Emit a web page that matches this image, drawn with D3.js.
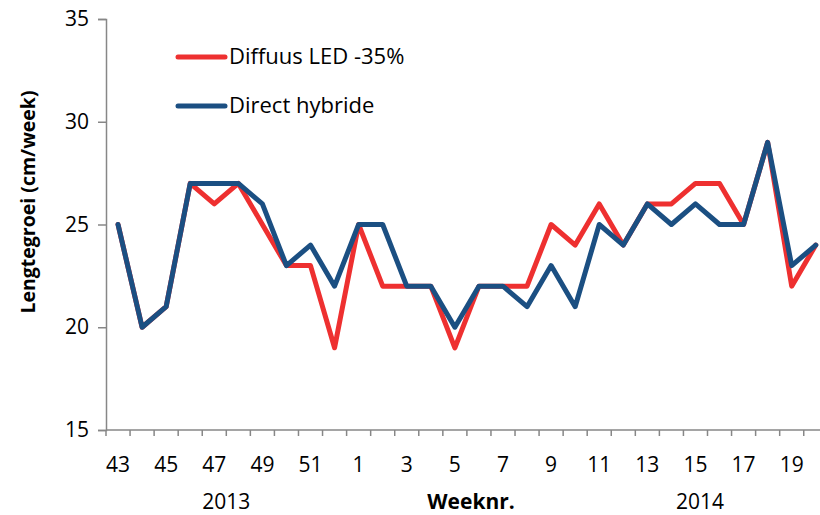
<!DOCTYPE html>
<html>
<head>
<meta charset="utf-8">
<script src="https://cdn.jsdelivr.net/npm/d3@7"></script>
<style>
  body { margin: 0; background: #fff; }
  svg { display: block; font-family: "Open Sans", Lato, sans-serif; }
</style>
</head>
<body>
<svg id="chart" width="820" height="515"></svg>
<script>
// weeks from 43 (2013) to 20 (2014)
let weeks = [43, 44, 45, 46, 47, 48, 49, 50, 51, 52,
  1, 2, 3, 4, 5, 6, 7, 8, 9, 10, 11, 12, 13, 14, 15, 16, 17, 18, 19, 20];

let diffuus = [25, 20, 21, 27, 26, 27, 25, 23, 23, 19,
  25, 22, 22, 22, 19, 22, 22, 22, 25, 24, 26, 24, 26, 26, 27, 27, 25, 29, 22, 24];

let direct = [25, 20, 21, 27, 27, 27, 26, 23, 24, 22,
  25, 25, 22, 22, 20, 22, 22, 21, 23, 21, 25, 24, 26, 25, 26, 25, 25, 29, 23, 24];

let yTicks = [15, 20, 25, 30, 35];
let seriesNames = ["Diffuus LED -35%", "Direct hybride"];
let seriesColors = ["#EE3030", "#1B4F82"];

let svg = d3.select("#chart");
let axisColor = "#878787";
let fs = 21;

let x = d3.scaleBand()
  .domain(d3.range(weeks.length))
  .range([106, 106 + 30 * 24.06])
  .padding(0);

let y = d3.scaleLinear()
  .domain([15, 35])
  .range([430, 19]);

// y axis
let yAxis = svg.append("g")
  .attr("transform", "translate(106,0)")
  .call(d3.axisLeft(y).tickValues(yTicks).tickSize(8).tickPadding(9));
yAxis.select(".domain").attr("stroke", axisColor).attr("stroke-width", 1.5);
yAxis.selectAll(".tick line").attr("stroke", axisColor).attr("stroke-width", 1.5);
yAxis.selectAll(".tick text")
  .attr("font-size", fs)
  .attr("fill", "#000")
  .attr("font-family", "'Open Sans', sans-serif");

// x axis: ticks between categories
let xAxisG = svg.append("g");
xAxisG.append("line")
  .attr("x1", 106).attr("x2", 820)
  .attr("y1", y(15)).attr("y2", y(15))
  .attr("stroke", axisColor).attr("stroke-width", 1.5);
xAxisG.selectAll(".xt")
  .data(d3.range(weeks.length + 1))
  .join("line")
  .attr("class", "xt")
  .attr("x1", d => 106 + d * x.step())
  .attr("x2", d => 106 + d * x.step())
  .attr("y1", y(15))
  .attr("y2", y(15) + 6)
  .attr("stroke", axisColor).attr("stroke-width", 1.5);
xAxisG.selectAll(".xl")
  .data(weeks.filter((w, i) => i % 2 == 0))
  .join("text")
  .attr("class", "xl")
  .attr("x", (w, i) => x(i * 2) + x.bandwidth() / 2)
  .attr("y", 472)
  .attr("text-anchor", "middle")
  .attr("font-size", fs)
  .text(d => d);

// year labels
svg.append("text")
  .attr("x", x(5)).attr("y", 509)
  .attr("text-anchor", "middle")
  .attr("font-size", fs)
  .text("2013");
svg.append("text")
  .attr("x", 700).attr("y", 509)
  .attr("text-anchor", "middle")
  .attr("font-size", fs)
  .text("2014");

// axis titles
svg.append("text")
  .attr("x", 471).attr("y", 509)
  .attr("text-anchor", "middle")
  .attr("font-size", fs)
  .attr("font-weight", "bold")
  .text("Weeknr.");
svg.append("text")
  .attr("transform", "translate(35,202) rotate(-90)")
  .attr("text-anchor", "middle")
  .attr("font-size", 19.5)
  .attr("font-weight", "bold")
  .text("Lengtegroei (cm/week)");

// lines
let line = d3.line()
  .x((d, i) => x(i) + x.bandwidth() / 2)
  .y(d => y(d));

[diffuus, direct].forEach((vals, k) => {
  svg.append("path")
    .datum(vals)
    .attr("d", line)
    .attr("fill", "none")
    .attr("stroke", seriesColors[k])
    .attr("stroke-width", 5)
    .attr("stroke-linejoin", "round")
    .attr("stroke-linecap", "round");
});

// legend
seriesNames.forEach((name, k) => {
  let ly = 57 + k * 49;
  svg.append("line")
    .attr("x1", 178).attr("x2", 225)
    .attr("y1", ly).attr("y2", ly)
    .attr("stroke", seriesColors[k])
    .attr("stroke-width", 5)
    .attr("stroke-linecap", "round");
  svg.append("text")
    .attr("x", 229).attr("y", ly + 7)
    .attr("font-size", 22)
    .text(name);
});
</script>
</body>
</html>
